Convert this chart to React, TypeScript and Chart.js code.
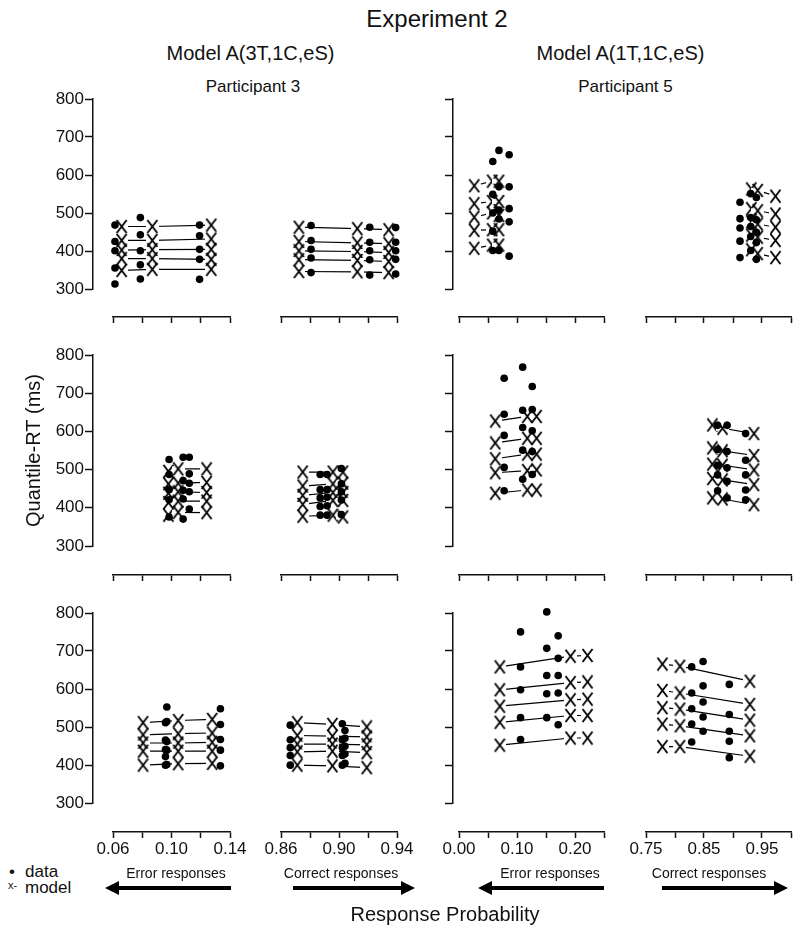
import React, { useEffect, useRef } from 'react';
import { Chart, registerables } from 'chart.js';

Chart.register(...registerables);

const FONT = '"Liberation Sans", Arial, Helvetica, sans-serif';
const INK = '#111111';
Chart.defaults.font.family = FONT;
Chart.defaults.color = INK;

// ---------------- tick values / labels ----------------
const rtTicks = [300, 400, 500, 600, 700, 800];
const p3ErrTicks = [0.06, 0.08, 0.1, 0.12, 0.14];
const p3ErrLabels = ['0.06', '', '0.10', '', '0.14'];
const p3CorTicks = [0.86, 0.88, 0.9, 0.92, 0.94];
const p3CorLabels = ['0.86', '', '0.90', '', '0.94'];
const p5ErrTicks = [0.0, 0.05, 0.1, 0.15, 0.2, 0.25];
const p5ErrLabels = ['0.00', '', '0.10', '', '0.20', ''];
const p5CorTicks = [0.75, 0.8, 0.85, 0.9, 0.95, 1.0];
const p5CorLabels = ['0.75', '', '0.85', '', '0.95', ''];

// ---------------- Participant 3 — Model A(3T,1C,eS) ----------------
// row 1
const p3r1ErrDataP = [0.0577, 0.0767, 0.121];
const p3r1ErrDataRT = [[298, 343, 391, 417, 463], [312, 352, 391, 436, 484], [311, 367, 395, 433, 463]];
const p3r1ErrModelP = [0.0627, 0.0856, 0.1297];
const p3r1ErrModelRT = [[336, 369, 393, 420, 459], [339, 369, 394, 420, 459], [339, 367, 395, 424, 463]];
const p3r1CorDataP = [0.8789, 0.9232, 0.9428];
const p3r1CorDataRT = [[330, 371, 395, 420, 462], [323, 366, 391, 415, 457], [326, 367, 391, 415, 456]];
const p3r1CorModelP = [0.8697, 0.9138, 0.9375];
const p3r1CorModelRT = [[333, 366, 391, 417, 457], [332, 364, 389, 413, 453], [330, 361, 386, 411, 450]];
// row 2
const p3r2ErrDataP = [0.0982, 0.1087, 0.1133];
const p3r2ErrDataRT = [[365, 413, 441, 483, 525], [359, 415, 439, 466, 531], [387, 435, 459, 485, 531]];
const p3r2ErrModelP = [0.0977, 0.105, 0.1263];
const p3r2ErrModelRT = [[370, 405, 431, 457, 492], [378, 409, 435, 459, 499], [377, 409, 433, 461, 499]];
const p3r2CorDataP = [0.8858, 0.891, 0.9018];
const p3r2CorDataRT = [[370, 394, 418, 441, 483], [370, 396, 420, 441, 483], [372, 412, 435, 457, 500]];
const p3r2CorModelP = [0.8726, 0.8954, 0.903];
const p3r2CorModelRT = [[367, 400, 425, 451, 490], [370, 411, 433, 457, 490], [365, 411, 433, 459, 490]];
// row 3
const p3r3ErrDataP = [0.0955, 0.0965, 0.1366];
const p3r3ErrDataRT = [[390, 414, 434, 460, 509], [392, 432, 456, 512, 553], [388, 432, 462, 504, 548]];
const p3r3ErrModelP = [0.0787, 0.105, 0.1304];
const p3r3ErrModelRT = [[390, 429, 452, 475, 509], [394, 429, 452, 478, 515], [395, 429, 454, 480, 518]];
const p3r3CorDataP = [0.8632, 0.9025, 0.9045];
const p3r3CorDataRT = [[390, 417, 439, 461, 502], [390, 417, 439, 461, 506], [395, 421, 443, 465, 487]];
const p3r3CorModelP = [0.8685, 0.895, 0.921];
const p3r3CorModelRT = [[390, 427, 449, 473, 509], [388, 429, 449, 471, 504], [383, 425, 447, 469, 497]];

// ---------------- Participant 5 — Model A(1T,1C,eS) ----------------
// row 1
const p5r1ErrDataP = [0.0529, 0.0644, 0.0834];
const p5r1ErrDataRT = [[392, 446, 497, 549, 641], [392, 480, 505, 570, 672], [376, 472, 509, 570, 660]];
const p5r1ErrModelP = [0.0184, 0.0517, 0.0644];
const p5r1ErrModelRT = [[398, 448, 485, 523, 573], [407, 450, 497, 529, 586], [407, 450, 490, 529, 586]];
const p5r1CorDataP = [0.915, 0.935, 0.9455];
const p5r1CorDataRT = [[372, 418, 455, 481, 527], [392, 431, 459, 484, 551], [367, 414, 443, 478, 540]];
const p5r1CorModelP = [0.936, 0.948, 0.981];
const p5r1CorModelRT = [[394, 435, 472, 509, 564], [383, 429, 466, 503, 560], [372, 420, 457, 494, 544]];
// row 2
const p5r2ErrDataP = [0.0741, 0.1086, 0.1264];
const p5r2ErrDataRT = [[438, 503, 592, 651, 751], [470, 551, 614, 662, 782], [483, 547, 605, 664, 728]];
const p5r2ErrModelP = [0.0575, 0.1172, 0.1345];
const p5r2ErrModelRT = [[431, 488, 527, 571, 632], [440, 494, 540, 584, 645], [440, 496, 540, 584, 645]];
const p5r2CorDataP = [0.8733, 0.891, 0.9255];
const p5r2CorDataRT = [[438, 482, 509, 553, 620], [418, 464, 502, 547, 620], [413, 440, 482, 523, 597]];
const p5r2CorModelP = [0.8635, 0.8825, 0.941];
const p5r2CorModelRT = [[418, 472, 512, 557, 621], [415, 468, 509, 549, 612], [399, 455, 496, 536, 597]];
// row 3
const p5r3ErrDataP = [0.1046, 0.1534, 0.1747];
const p5r3ErrDataRT = [[462, 523, 601, 665, 763], [523, 590, 641, 717, 819], [503, 592, 641, 689, 752]];
const p5r3ErrModelP = [0.0661, 0.1977, 0.2293];
const p5r3ErrModelRT = [[446, 510, 555, 601, 665], [466, 529, 573, 621, 695], [466, 529, 575, 623, 697]];
const p5r3CorDataP = [0.8251, 0.8463, 0.8951];
const p5r3CorDataRT = [[455, 505, 548, 592, 665], [485, 525, 567, 612, 680], [411, 457, 485, 532, 616]];
const p5r3CorModelP = [0.7706, 0.8033, 0.9335];
const p5r3CorModelRT = [[442, 505, 551, 599, 673], [442, 500, 547, 592, 667], [415, 472, 516, 560, 625]];

// ---------------- structure ----------------
type Side = { dataP: number[]; dataRT: number[][]; modelP: number[]; modelRT: number[][] };
type AxisDef = { x0: number; x1: number; ticks: number[]; labels: string[] };

const PANELS: { row: number; col: number; err: Side; cor: Side }[] = [
  { row: 0, col: 0, err: { dataP: p3r1ErrDataP, dataRT: p3r1ErrDataRT, modelP: p3r1ErrModelP, modelRT: p3r1ErrModelRT }, cor: { dataP: p3r1CorDataP, dataRT: p3r1CorDataRT, modelP: p3r1CorModelP, modelRT: p3r1CorModelRT } },
  { row: 1, col: 0, err: { dataP: p3r2ErrDataP, dataRT: p3r2ErrDataRT, modelP: p3r2ErrModelP, modelRT: p3r2ErrModelRT }, cor: { dataP: p3r2CorDataP, dataRT: p3r2CorDataRT, modelP: p3r2CorModelP, modelRT: p3r2CorModelRT } },
  { row: 2, col: 0, err: { dataP: p3r3ErrDataP, dataRT: p3r3ErrDataRT, modelP: p3r3ErrModelP, modelRT: p3r3ErrModelRT }, cor: { dataP: p3r3CorDataP, dataRT: p3r3CorDataRT, modelP: p3r3CorModelP, modelRT: p3r3CorModelRT } },
  { row: 0, col: 1, err: { dataP: p5r1ErrDataP, dataRT: p5r1ErrDataRT, modelP: p5r1ErrModelP, modelRT: p5r1ErrModelRT }, cor: { dataP: p5r1CorDataP, dataRT: p5r1CorDataRT, modelP: p5r1CorModelP, modelRT: p5r1CorModelRT } },
  { row: 1, col: 1, err: { dataP: p5r2ErrDataP, dataRT: p5r2ErrDataRT, modelP: p5r2ErrModelP, modelRT: p5r2ErrModelRT }, cor: { dataP: p5r2CorDataP, dataRT: p5r2CorDataRT, modelP: p5r2CorModelP, modelRT: p5r2CorModelRT } },
  { row: 2, col: 1, err: { dataP: p5r3ErrDataP, dataRT: p5r3ErrDataRT, modelP: p5r3ErrModelP, modelRT: p5r3ErrModelRT }, cor: { dataP: p5r3CorDataP, dataRT: p5r3CorDataRT, modelP: p5r3CorModelP, modelRT: p5r3CorModelRT } },
];

// layout (pixels)
const ROWS = [
  { top: 99, bottom: 289, axisY: 317 },
  { top: 355, bottom: 546, axisY: 575 },
  { top: 613, bottom: 803, axisY: 832 },
];
const COLS: { axisX: number; yLabels: boolean; err: AxisDef; cor: AxisDef }[] = [
  { axisX: 93, yLabels: true, err: { x0: 113, x1: 230, ticks: p3ErrTicks, labels: p3ErrLabels }, cor: { x0: 281, x1: 397, ticks: p3CorTicks, labels: p3CorLabels } },
  { axisX: 453, yLabels: false, err: { x0: 459, x1: 604, ticks: p5ErrTicks, labels: p5ErrLabels }, cor: { x0: 646, x1: 791, ticks: p5CorTicks, labels: p5CorLabels } },
];

// "X" marker with a small white band so model lines stop short of it (R type="b")
let xMarkCache: HTMLCanvasElement | null = null;
function xMark(): HTMLCanvasElement {
  if (xMarkCache) return xMarkCache;
  const c = document.createElement('canvas');
  c.width = 13;
  c.height = 15;
  const g = c.getContext('2d')!;
  g.fillStyle = '#ffffff';
  g.fillRect(0, 5, 13, 5);
  g.strokeStyle = '#000000';
  g.lineWidth = 1.9;
  g.lineCap = 'butt';
  g.beginPath();
  g.moveTo(1.5, 1);
  g.lineTo(11.5, 14);
  g.moveTo(11.5, 1);
  g.lineTo(1.5, 14);
  g.stroke();
  xMarkCache = c;
  return c;
}

const baseOpts = {
  responsive: false,
  animation: false as const,
  events: [] as any[],
  plugins: { legend: { display: false }, tooltip: { enabled: false }, title: { display: false } },
};

function ChartBox({ left, top, width, height, make }: { left: number; top: number; width: number; height: number; make: () => any }) {
  const ref = useRef<HTMLCanvasElement>(null);
  useEffect(() => {
    const chart = new Chart(ref.current as HTMLCanvasElement, make());
    return () => chart.destroy();
  }, []);
  return (
    <canvas
      ref={ref}
      width={width}
      height={height}
      style={{ position: 'absolute', left, top, width, height }}
    />
  );
}

const M = 25;

function dataConfig(side: Side, ax: AxisDef, row: { top: number; bottom: number }) {
  const t0 = ax.ticks[0];
  const t1 = ax.ticks[ax.ticks.length - 1];
  const ux = (t1 - t0) / (ax.x1 - ax.x0);
  const uy = 500 / (row.bottom - row.top);
  const dots = side.dataP.flatMap((p, i) => side.dataRT[i].map((rt) => ({ x: p, y: rt })));
  const nQ = side.modelRT[0].length;
  const lines = Array.from({ length: nQ }, (_, q) => ({
    type: 'line',
    data: side.modelP.map((p, i) => ({ x: p, y: side.modelRT[i][q] })),
    borderColor: '#000000',
    borderWidth: 1.2,
    tension: 0,
    fill: false,
    pointStyle: xMark(),
    pointRadius: 6,
    pointHoverRadius: 6,
    order: 1,
  }));
  return {
    type: 'line',
    data: {
      datasets: [
        {
          type: 'line',
          data: dots,
          showLine: false,
          pointStyle: 'circle',
          pointRadius: 3.8,
          pointHoverRadius: 3.8,
          pointBackgroundColor: '#000000',
          pointBorderWidth: 0,
          order: 0,
        },
        ...lines,
      ],
    },
    options: {
      ...baseOpts,
      layout: { padding: 0 },
      scales: {
        x: { type: 'linear', display: false, min: t0 - M * ux, max: t1 + M * ux },
        y: { type: 'linear', display: false, min: 300 - M * uy, max: 800 + M * uy },
      },
    },
  };
}

function xAxisConfig(ax: AxisDef, showLabels: boolean) {
  return {
    type: 'line',
    data: { datasets: [] },
    options: {
      ...baseOpts,
      layout: { padding: { left: 25, right: 25, top: 2, bottom: 0 } },
      scales: {
        x: {
          type: 'linear',
          position: 'bottom',
          min: ax.ticks[0],
          max: ax.ticks[ax.ticks.length - 1],
          afterBuildTicks: (s: any) => {
            s.ticks = ax.ticks.map((v) => ({ value: v }));
          },
          afterFit: (s: any) => {
            s.height = 36;
          },
          border: { display: true, color: INK, width: 1.5 },
          grid: { display: true, drawOnChartArea: false, drawTicks: true, tickLength: 6, tickColor: INK, tickWidth: 1.5 },
          ticks: {
            display: showLabels,
            autoSkip: false,
            maxRotation: 0,
            padding: 1,
            color: INK,
            font: { family: FONT, size: 17 },
            callback: (_v: any, i: number) => ax.labels[i],
          },
        },
        y: { type: 'linear', display: false, min: 0, max: 1 },
      },
    },
  };
}

function yAxisConfig(axisX: number, canvasLeft: number, showLabels: boolean, title: string | null) {
  return {
    type: 'line',
    data: { datasets: [] },
    options: {
      ...baseOpts,
      layout: { padding: { left: 0, right: 2, top: 15, bottom: 15 } },
      scales: {
        y: {
          type: 'linear',
          position: 'left',
          min: rtTicks[0],
          max: rtTicks[rtTicks.length - 1],
          afterBuildTicks: (s: any) => {
            s.ticks = rtTicks.map((v) => ({ value: v }));
          },
          afterFit: (s: any) => {
            s.width = axisX - canvasLeft;
          },
          border: { display: true, color: INK, width: 1.5 },
          grid: { display: true, drawOnChartArea: false, drawTicks: true, tickLength: 8, tickColor: INK, tickWidth: 1.5 },
          ticks: {
            display: showLabels,
            padding: 1,
            color: INK,
            font: { family: FONT, size: 17 },
            callback: (v: any) => String(v),
          },
          title: {
            display: !!title,
            text: title || '',
            color: INK,
            font: { family: FONT, size: 20 },
            padding: { top: 22, bottom: 0 },
          },
        },
        x: { type: 'linear', display: false, min: 0, max: 1 },
      },
    },
  };
}

function Label({ x, y, size, children, align = 'center' }: { x: number; y: number; size: number; children: React.ReactNode; align?: 'center' | 'left' }) {
  return (
    <div
      style={{
        position: 'absolute',
        left: x,
        top: y,
        transform: align === 'center' ? 'translate(-50%, -50%)' : 'translate(0, -50%)',
        fontFamily: FONT,
        fontSize: size,
        lineHeight: 1,
        whiteSpace: 'nowrap',
        color: INK,
      }}
    >
      {children}
    </div>
  );
}

function Arrow({ tail, tip, y }: { tail: number; tip: number; y: number }) {
  const dir = Math.sign(tip - tail);
  const base = tip - dir * 14;
  return (
    <g fill="#000000">
      <rect x={Math.min(tail, base)} y={y - 2} width={Math.abs(base - tail)} height={4} />
      <polygon points={`${tip},${y} ${base},${y - 7} ${base},${y + 7}`} />
    </g>
  );
}

export default function App() {
  const boxes: React.ReactNode[] = [];

  // y axes
  ROWS.forEach((row, r) => {
    COLS.forEach((col, c) => {
      const canvasLeft = col.yLabels ? 0 : col.axisX - 14;
      const width = col.axisX - canvasLeft + 3;
      const title = c === 0 && r === 1 ? 'Quantile-RT (ms)' : null;
      boxes.push(
        <ChartBox
          key={`y-${r}-${c}`}
          left={canvasLeft}
          top={row.top - 15}
          width={width}
          height={row.bottom - row.top + 30}
          make={() => yAxisConfig(col.axisX, canvasLeft, col.yLabels, title)}
        />
      );
    });
  });

  // x axes
  ROWS.forEach((row, r) => {
    COLS.forEach((col, c) => {
      [col.err, col.cor].forEach((ax, k) => {
        boxes.push(
          <ChartBox
            key={`x-${r}-${c}-${k}`}
            left={ax.x0 - 25}
            top={row.axisY - 4}
            width={ax.x1 - ax.x0 + 50}
            height={40}
            make={() => xAxisConfig(ax, r === ROWS.length - 1)}
          />
        );
      });
    });
  });

  // data panels
  PANELS.forEach((p) => {
    const row = ROWS[p.row];
    const col = COLS[p.col];
    [
      { side: p.err, ax: col.err, k: 'e' },
      { side: p.cor, ax: col.cor, k: 'c' },
    ].forEach(({ side, ax, k }) => {
      boxes.push(
        <ChartBox
          key={`d-${p.row}-${p.col}-${k}`}
          left={ax.x0 - M}
          top={row.top - M}
          width={ax.x1 - ax.x0 + 2 * M}
          height={row.bottom - row.top + 2 * M}
          make={() => dataConfig(side, ax, row)}
        />
      );
    });
  });

  return (
    <div
      style={{
        position: 'absolute',
        left: 0,
        top: 0,
        width: 800,
        height: 942,
        overflow: 'hidden',
        background: '#ffffff',
      }}
    >
      <Label x={437} y={18.5} size={24}>Experiment 2</Label>
      <Label x={250.5} y={52.5} size={20}>Model A(3T,1C,eS)</Label>
      <Label x={620.5} y={52.5} size={20}>Model A(1T,1C,eS)</Label>
      <Label x={253} y={86} size={17}>Participant 3</Label>
      <Label x={625.5} y={85.5} size={17}>Participant 5</Label>

      {boxes}

      <Label x={9} y={871} size={17} align="left">•</Label>
      <Label x={25} y={871} size={17} align="left">data</Label>
      <Label x={8} y={885} size={11} align="left">x-</Label>
      <Label x={25} y={887} size={17} align="left">model</Label>

      <Label x={176} y={873} size={14}>Error responses</Label>
      <Label x={341} y={873} size={14}>Correct responses</Label>
      <Label x={550} y={873} size={14}>Error responses</Label>
      <Label x={709} y={873} size={14}>Correct responses</Label>

      <svg width={800} height={942} style={{ position: 'absolute', left: 0, top: 0, pointerEvents: 'none' }}>
        <Arrow tail={231} tip={105} y={888} />
        <Arrow tail={293} tip={415} y={888} />
        <Arrow tail={604} tip={478} y={888} />
        <Arrow tail={662} tip={788} y={888} />
      </svg>

      <Label x={445} y={914} size={20}>Response Probability</Label>
    </div>
  );
}
